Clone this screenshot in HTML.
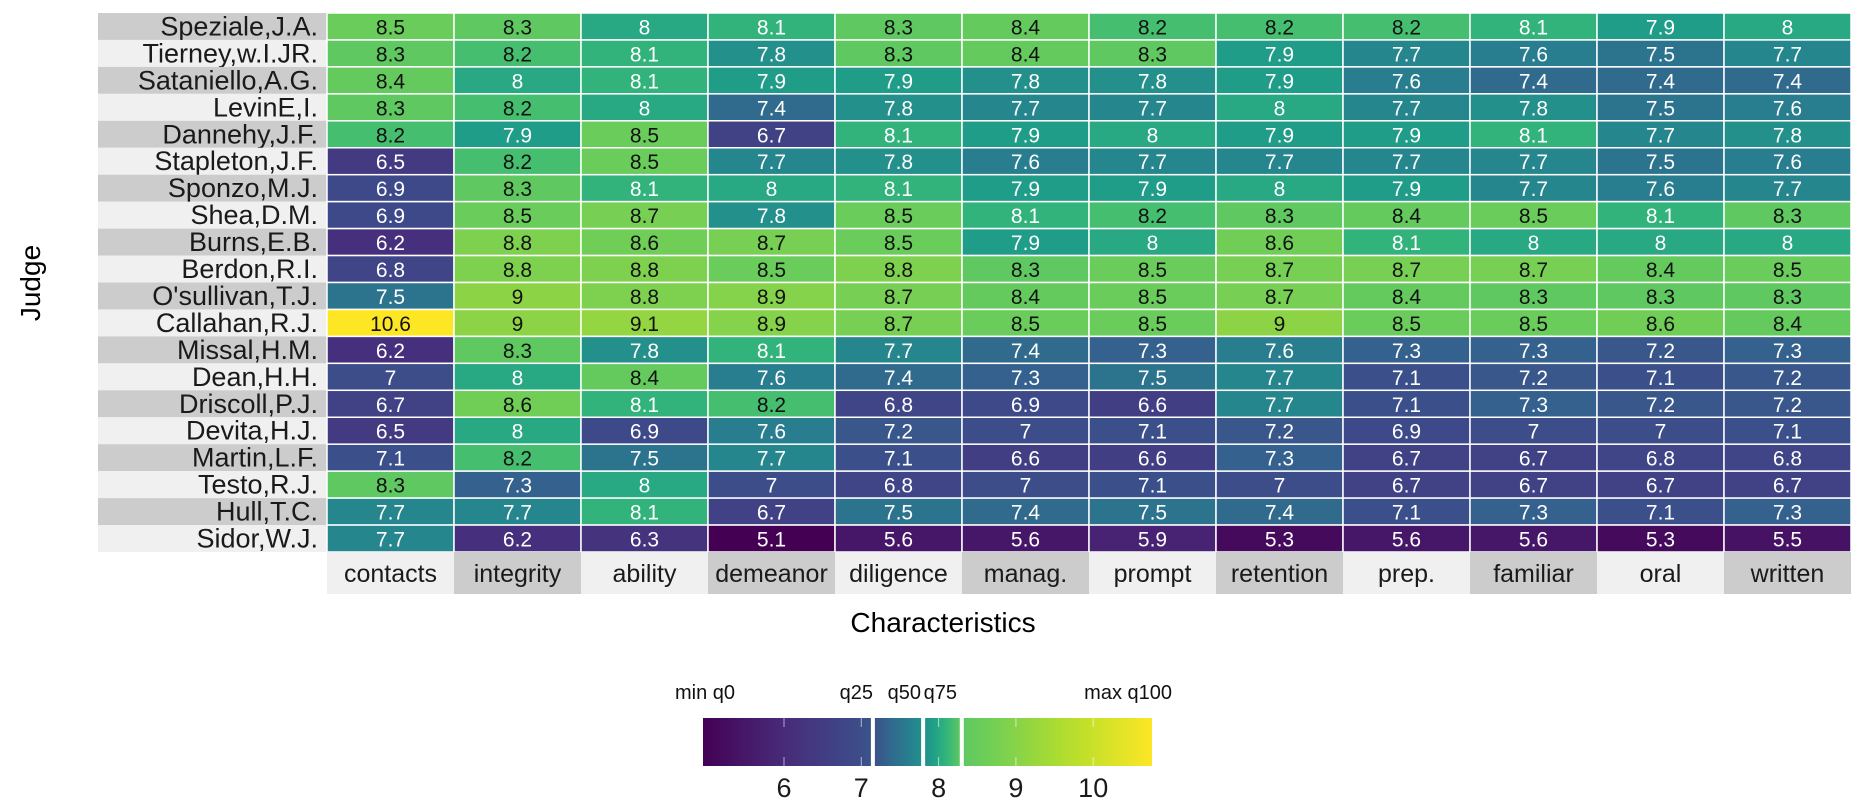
<!DOCTYPE html>
<html><head><meta charset="utf-8"><style>
body{margin:0;background:#fff;width:1852px;height:802px;overflow:hidden}
svg text{font-family:"Liberation Sans",Arial,sans-serif}
</style></head><body>
<svg id="chart" width="1852" height="802" viewBox="0 0 1852 802" xmlns="http://www.w3.org/2000/svg">
<text x="0" y="0" transform="translate(40,283) rotate(-90)" text-anchor="middle" font-size="28">Judge</text>
<text x="943" y="632" text-anchor="middle" font-size="28">Characteristics</text>
<g id="cells"></g><g id="legend"></g>
</svg>
<script>
const judges=["Speziale,J.A.","Tierney,w.I.JR.","Sataniello,A.G.","LevinE,I.","Dannehy,J.F.","Stapleton,J.F.","Sponzo,M.J.","Shea,D.M.","Burns,E.B.","Berdon,R.I.","O'sullivan,T.J.","Callahan,R.J.","Missal,H.M.","Dean,H.H.","Driscoll,P.J.","Devita,H.J.","Martin,L.F.","Testo,R.J.","Hull,T.C.","Sidor,W.J."];
const traits=["contacts","integrity","ability","demeanor","diligence","manag.","prompt","retention","prep.","familiar","oral","written"];
const values=[
[8.5,8.3,8,8.1,8.3,8.4,8.2,8.2,8.2,8.1,7.9,8],
[8.3,8.2,8.1,7.8,8.3,8.4,8.3,7.9,7.7,7.6,7.5,7.7],
[8.4,8,8.1,7.9,7.9,7.8,7.8,7.9,7.6,7.4,7.4,7.4],
[8.3,8.2,8,7.4,7.8,7.7,7.7,8,7.7,7.8,7.5,7.6],
[8.2,7.9,8.5,6.7,8.1,7.9,8,7.9,7.9,8.1,7.7,7.8],
[6.5,8.2,8.5,7.7,7.8,7.6,7.7,7.7,7.7,7.7,7.5,7.6],
[6.9,8.3,8.1,8,8.1,7.9,7.9,8,7.9,7.7,7.6,7.7],
[6.9,8.5,8.7,7.8,8.5,8.1,8.2,8.3,8.4,8.5,8.1,8.3],
[6.2,8.8,8.6,8.7,8.5,7.9,8,8.6,8.1,8,8,8],
[6.8,8.8,8.8,8.5,8.8,8.3,8.5,8.7,8.7,8.7,8.4,8.5],
[7.5,9,8.8,8.9,8.7,8.4,8.5,8.7,8.4,8.3,8.3,8.3],
[10.6,9,9.1,8.9,8.7,8.5,8.5,9,8.5,8.5,8.6,8.4],
[6.2,8.3,7.8,8.1,7.7,7.4,7.3,7.6,7.3,7.3,7.2,7.3],
[7,8,8.4,7.6,7.4,7.3,7.5,7.7,7.1,7.2,7.1,7.2],
[6.7,8.6,8.1,8.2,6.8,6.9,6.6,7.7,7.1,7.3,7.2,7.2],
[6.5,8,6.9,7.6,7.2,7,7.1,7.2,6.9,7,7,7.1],
[7.1,8.2,7.5,7.7,7.1,6.6,6.6,7.3,6.7,6.7,6.8,6.8],
[8.3,7.3,8,7,6.8,7,7.1,7,6.7,6.7,6.7,6.7],
[7.7,7.7,8.1,6.7,7.5,7.4,7.5,7.4,7.1,7.3,7.1,7.3],
[7.7,6.2,6.3,5.1,5.6,5.6,5.9,5.3,5.6,5.6,5.3,5.5]];
const quantVals=[5.1,7.15,7.8,8.3,10.6];
const quantLabels=["min q0","q25","q50","q75","max q100"];
const legendTicks=[6,7,8,9,10];

const vir=[[68,1,84],[72,40,120],[62,74,137],[49,104,142],[38,130,142],[31,158,137],[53,183,121],[109,205,89],[180,222,44],[253,231,37]];
function viridis(t){t=Math.max(0,Math.min(1,t));const p=t*(vir.length-1),i=Math.min(Math.floor(p),vir.length-2),f=p-i;
 const c=vir[i].map((a,k)=>Math.round(a+(vir[i+1][k]-a)*f));return `rgb(${c})`;}
function scaleT(v){for(let i=0;i<4;i++){if(v<=quantVals[i+1]||i==3){return (i+(v-quantVals[i])/(quantVals[i+1]-quantVals[i]))/4;}}}
const NS="http://www.w3.org/2000/svg";
function mk(tag,attrs,parent,txt){const e=document.createElementNS(NS,tag);for(const k in attrs)e.setAttribute(k,attrs[k]);if(txt!=null)e.textContent=txt;parent.appendChild(e);return e;}
const X0=327,X1=1851,Y0=13,Y1=552;
const cw=(X1-X0)/traits.length,rh=(Y1-Y0)/judges.length;
const xPos=j=>X0+j*cw, yPos=i=>Y0+i*rh;
const g=document.getElementById('cells');
judges.forEach((name,i)=>{
 const bg=mk('rect',{x:98,y:yPos(i),width:X0-98,height:rh,fill:i%2?'#f0f0f0':'#cccccc'},g);
 
 
 const t=mk('text',{x:318,y:yPos(i)+rh/2+9,'text-anchor':'end','font-size':27,fill:'#1a1a1a'},g,name);
 
 
 values[i].forEach((v,j)=>{
  const r=mk('rect',{x:xPos(j),y:yPos(i),width:cw,height:rh,fill:viridis(scaleT(v)),stroke:'#fff','stroke-width':1.5},g);
  
  
  const tt=mk('text',{x:xPos(j)+cw/2,y:yPos(i)+rh/2+8,'text-anchor':'middle','font-size':21,fill:v>8.15?'#111':'#fff'},g,String(v));
  
  
 });
});
traits.forEach((c,j)=>{
 const b=mk('rect',{x:xPos(j),y:Y1,width:cw,height:42,fill:j%2?'#cccccc':'#f0f0f0'},g);
 
 
 const t=mk('text',{x:xPos(j)+cw/2,y:Y1+30,'text-anchor':'middle','font-size':25,fill:'#1a1a1a'},g,c);
 
 
});
// legend
const L=document.getElementById('legend');
const lx=v=>784+(v-6)*77.3;
const defs=mk('defs',{},L);
const segEdges=[703,lx(quantVals[1]),lx(quantVals[2]),lx(quantVals[3]),1152];
for(let s=0;s<4;s++){
 const gid='lg'+s;const gr=mk('linearGradient',{id:gid,x1:0,x2:1,y1:0,y2:0},defs);
 for(let k=0;k<=8;k++){mk('stop',{offset:k/8,'stop-color':viridis((s+k/8)/4)},gr);}
 const a=segEdges[s]+(s?2:0),b=segEdges[s+1]-(s<3?2:0);
 const r=mk('rect',{x:a,y:718,width:b-a,height:48,fill:`url(#${gid})`},L);
 
 
}
legendTicks.forEach(v=>{
 mk('line',{x1:lx(v),x2:lx(v),y1:718,y2:727,stroke:'#fff','stroke-opacity':0.6},L);
 mk('line',{x1:lx(v),x2:lx(v),y1:757,y2:766,stroke:'#fff','stroke-opacity':0.6},L);
 const t=mk('text',{x:lx(v),y:797,'text-anchor':'middle','font-size':27,fill:'#1a1a1a'},L,String(v));
 
 
});
const qx=[675,873,921,957,1172];const qa=['start','end','end','end','end'];
quantLabels.forEach((q,k)=>{
 const t=mk('text',{x:qx[k],y:699,'text-anchor':qa[k],'font-size':20,fill:'#111'},L,q);
 
 
});
</script>
</body></html>
